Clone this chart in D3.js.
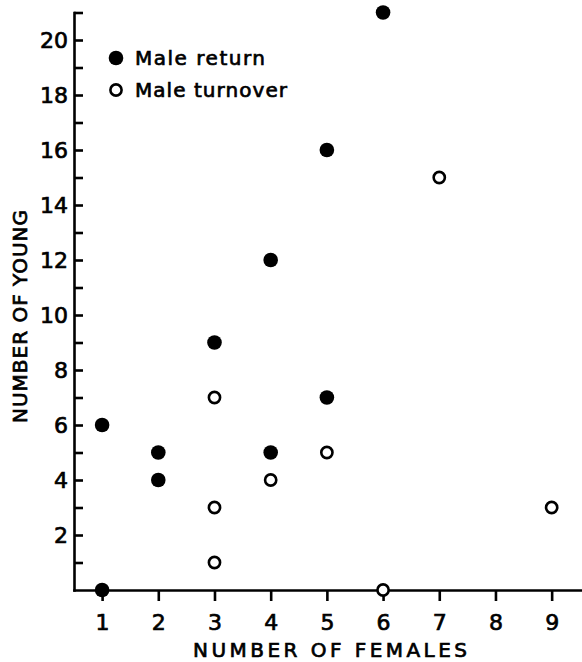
<!DOCTYPE html>
<html>
<head>
<meta charset="utf-8">
<script src="https://cdn.jsdelivr.net/npm/d3@7"></script>
<style>
  body { margin: 0; background: #fff; }
  svg { display: block; }
  .axis path, .axis line { stroke: #000; stroke-width: 2.6; }
  .axis text { font-family: "DejaVu Sans", sans-serif; font-size: 22px; fill: #000; stroke: #000; stroke-width: 0.7px; }
  .lbl { font-family: "DejaVu Sans", sans-serif; font-size: 20px; fill: #000; stroke: #000; stroke-width: 0.7px; }
</style>
</head>
<body>
<div id="chart"></div>
<script>
// Male return (filled dots)
var returnFemales = [1, 1, 2, 2, 3, 4, 4, 5, 5, 6];
var returnYoung   = [0, 6, 5, 4, 9, 12, 5, 16, 7, 21];

// Male turnover (open dots)
var turnoverFemales = [3, 3, 3, 4, 5, 6, 7, 9];
var turnoverYoung   = [7, 3, 1, 4, 5, 0, 15, 3];

var xTicks = [1, 2, 3, 4, 5, 6, 7, 8, 9];
var yTicks = d3.range(1, 22);
var yLabels = [2, 4, 6, 8, 10, 12, 14, 16, 18, 20];

var svgWidth = 582;
var svgHeight = 662;

var svg = d3.select("#chart")
    .append("svg")
    .attr("width", svgWidth)
    .attr("height", svgHeight);

var x = d3.scaleLinear()
    .domain([0.5, 9.54])
    .range([74, 582]);

var y = d3.scaleLinear()
    .domain([0, 21])
    .range([590, 12.5]);

// x axis, ticks point down
var xAxis = d3.axisBottom(x)
    .tickValues(xTicks)
    .tickSize(11)
    .tickSizeOuter(0)
    .tickPadding(13)
    .tickFormat(d3.format("d"));

svg.append("g")
    .attr("class", "axis")
    .attr("transform", "translate(0," + y(0) + ")")
    .call(xAxis);

// y axis, ticks point inward
var yAxis = d3.axisLeft(y)
    .tickValues(yTicks)
    .tickSize(-9)
    .tickSizeOuter(0)
    .tickPadding(6)
    .tickFormat(function (d) { return yLabels.indexOf(d) >= 0 ? d : ""; });

svg.append("g")
    .attr("class", "axis")
    .attr("transform", "translate(" + x(0.5) + ",0)")
    .call(yAxis);

svg.selectAll(".axis .domain")
    .attr("stroke-linecap", "square");

// axis titles
svg.append("text")
    .attr("class", "lbl")
    .attr("x", 193)
    .attr("y", 657)
    .attr("textLength", 274)
    .attr("lengthAdjust", "spacing")
    .text("NUMBER OF FEMALES");

svg.append("text")
    .attr("class", "lbl")
    .attr("transform", "translate(27,423) rotate(-90)")
    .attr("textLength", 213)
    .attr("lengthAdjust", "spacing")
    .text("NUMBER OF YOUNG");

// points
var returnData = returnFemales.map(function (f, i) {
    return { females: f, young: returnYoung[i] };
});
var turnoverData = turnoverFemales.map(function (f, i) {
    return { females: f, young: turnoverYoung[i] };
});

svg.selectAll(".ret")
    .data(returnData)
    .enter()
    .append("circle")
    .attr("class", "ret")
    .attr("cx", d => x(d.females))
    .attr("cy", d => y(d.young))
    .attr("r", 7.3)
    .attr("fill", "#000");

svg.selectAll(".turn")
    .data(turnoverData)
    .enter()
    .append("circle")
    .attr("class", "turn")
    .attr("cx", d => x(d.females))
    .attr("cy", d => y(d.young))
    .attr("r", 5.6)
    .attr("fill", "#fff")
    .attr("stroke", "#000")
    .attr("stroke-width", 2.6);

// legend
var legend = svg.append("g");

legend.append("circle")
    .attr("cx", 116)
    .attr("cy", 58)
    .attr("r", 7.3)
    .attr("fill", "#000");

legend.append("text")
    .attr("class", "lbl")
    .attr("x", 135)
    .attr("y", 65)
    .attr("textLength", 130)
    .attr("lengthAdjust", "spacing")
    .text("Male return");

legend.append("circle")
    .attr("cx", 116)
    .attr("cy", 90)
    .attr("r", 5.6)
    .attr("fill", "#fff")
    .attr("stroke", "#000")
    .attr("stroke-width", 2.6);

legend.append("text")
    .attr("class", "lbl")
    .attr("x", 135)
    .attr("y", 97)
    .attr("textLength", 152)
    .attr("lengthAdjust", "spacing")
    .text("Male turnover");
</script>
</body>
</html>
